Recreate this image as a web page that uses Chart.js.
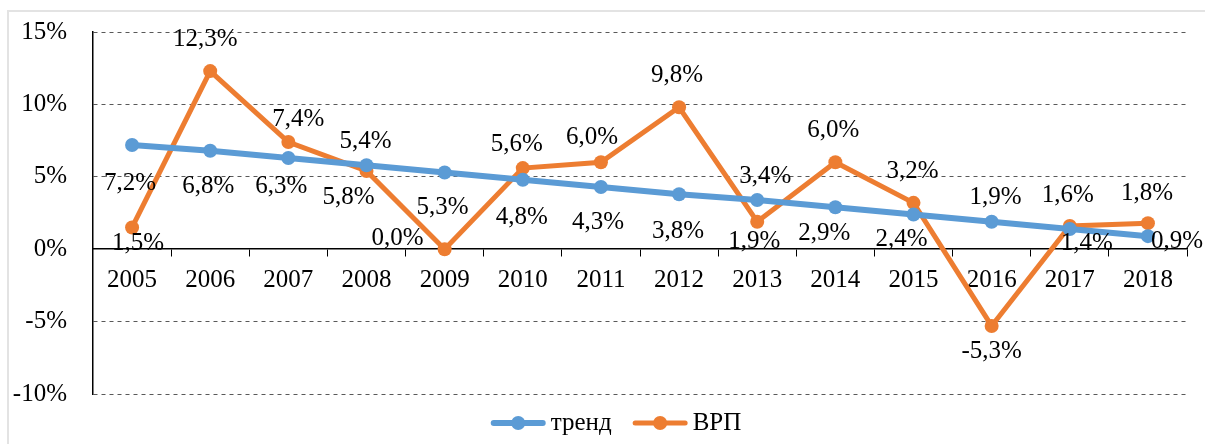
<!DOCTYPE html>
<html>
<head>
<meta charset="utf-8">
<script src="https://cdn.jsdelivr.net/npm/chart.js@4.4.1/dist/chart.umd.min.js"></script>
<style>
  html, body { margin: 0; padding: 0; background: #fff; }
  #wrap { position: relative; width: 1205px; height: 444px; }
</style>
</head>
<body>
<div id="wrap"><canvas id="c" width="1205" height="444"></canvas></div>
<script>
// ---- data ----
const years = ['2005','2006','2007','2008','2009','2010','2011','2012','2013','2014','2015','2016','2017','2018'];
const trend = [7.2, 6.8, 6.3, 5.8, 5.3, 4.8, 4.3, 3.8, 3.4, 2.9, 2.4, 1.9, 1.4, 0.9];
const vrp   = [1.5, 12.3, 7.4, 5.4, 0.0, 5.6, 6.0, 9.8, 1.9, 6.0, 3.2, -5.3, 1.6, 1.8];
const seriesNames = ['тренд', 'ВРП'];
const yTicks = [-10, -5, 0, 5, 10, 15];

// ---- styles ----
const FONT = '"Liberation Serif", "Times New Roman", serif';
const FSIZE = 25;
const BLUE = '#5B9BD5';
const ORANGE = '#ED7D31';
// data label placement (pixel offsets from each point), as in the original layout
const trendLabelOffset = [[-2,38],[-2,36],[-7,28],[-18,32],[-2,35],[-1,38],[-3,36],[-1,37],[8,-24],[-11,26],[-12,25],[4,-24],[17,15],[29,5]];
const vrpLabelOffset   = [[6,16],[-5,-32],[10,-23],[-1,-30],[-47,-11],[-6,-24],[-9,-25],[-2,-32],[-3,20],[-2,-32],[-1,-31],[0,25],[-2,-31],[-1,-30]];
const LEGEND = { centerX: 616, centerY: 423, lineLen: 55, textGap: 5, itemGap: 21 };

const fmt = v => v.toFixed(1).replace('.', ',') + '%';

const labelPlugin = {
  id: 'pointLabels',
  afterDatasetsDraw(chart) {
    const ctx = chart.ctx;
    ctx.save();
    ctx.font = FSIZE + 'px ' + FONT;
    ctx.fillStyle = '#000';
    ctx.textAlign = 'center';
    ctx.textBaseline = 'middle';
    const offs = [trendLabelOffset, vrpLabelOffset];
    chart.data.datasets.forEach((ds, di) => {
      const meta = chart.getDatasetMeta(di);
      meta.data.forEach((pt, i) => {
        const o = offs[di][i];
        ctx.fillText(fmt(ds.data[i]), pt.x + o[0], pt.y + o[1]);
      });
    });
    ctx.restore();
  }
};

const legendPlugin = {
  id: 'lineLegend',
  afterDraw(chart) {
    const ctx = chart.ctx;
    const dss = chart.data.datasets;
    ctx.save();
    ctx.font = FSIZE + 'px ' + FONT;
    ctx.textBaseline = 'middle';
    ctx.textAlign = 'left';
    const widths = dss.map(ds => ctx.measureText(ds.label).width);
    let total = 0;
    dss.forEach((ds, i) => { total += LEGEND.lineLen + LEGEND.textGap + widths[i] + (i ? LEGEND.itemGap : 0); });
    let x = LEGEND.centerX - total / 2;
    const y = LEGEND.centerY;
    dss.forEach((ds, i) => {
      if (i) x += LEGEND.itemGap;
      const lw = ds.borderWidth;
      ctx.strokeStyle = ds.borderColor;
      ctx.lineWidth = lw;
      ctx.lineCap = 'round';
      ctx.beginPath();
      ctx.moveTo(x + lw / 2, y);
      ctx.lineTo(x + LEGEND.lineLen - lw / 2, y);
      ctx.stroke();
      ctx.fillStyle = ds.borderColor;
      ctx.beginPath();
      ctx.arc(x + LEGEND.lineLen / 2, y, ds.pointRadius, 0, Math.PI * 2);
      ctx.fill();
      x += LEGEND.lineLen + LEGEND.textGap;
      ctx.fillStyle = '#000';
      ctx.fillText(ds.label, x, y);
      x += widths[i];
    });
    ctx.restore();
  }
};

const framePlugin = {
  id: 'frame',
  beforeDraw(chart) {
    const ctx = chart.ctx;
    ctx.save();
    ctx.fillStyle = '#fff';
    ctx.fillRect(0, 0, chart.width, chart.height);
    ctx.strokeStyle = '#e3e3e3';
    ctx.lineWidth = 2;
    ctx.strokeRect(8, 11, chart.width + 20, chart.height + 20);
    ctx.restore();
  }
};

new Chart(document.getElementById('c'), {
  type: 'line',
  data: {
    labels: years,
    datasets: [
      { label: seriesNames[0], data: trend, borderColor: BLUE, backgroundColor: BLUE,
        borderWidth: 6, pointRadius: 7, pointBackgroundColor: BLUE, pointBorderWidth: 0, tension: 0 },
      { label: seriesNames[1], data: vrp, borderColor: ORANGE, backgroundColor: ORANGE,
        borderWidth: 5, pointRadius: 7, pointBackgroundColor: ORANGE, pointBorderWidth: 0, tension: 0 }
    ]
  },
  options: {
    responsive: false,
    animation: false,
    devicePixelRatio: 1,
    layout: { padding: { left: 10, right: 18, top: 32, bottom: 50 } },
    plugins: {
      tooltip: { enabled: false },
      legend: { display: false }
    },
    scales: {
      x: {
        type: 'category',
        offset: true,
        position: { y: 0 },
        grid: { offset: true, drawOnChartArea: false, drawTicks: true, tickLength: 7, color: '#000', lineWidth: 1 },
        border: { display: true, color: '#000', width: 1.5 },
        ticks: { color: '#000', font: { family: FONT, size: FSIZE }, padding: 9, maxRotation: 0, autoSkip: false }
      },
      y: {
        min: yTicks[0],
        max: yTicks[yTicks.length - 1],
        afterBuildTicks: (scale) => { scale.ticks = yTicks.map(v => ({ value: v })); },
        afterFit: (scale) => { scale.width = 83; scale.paddingTop = 0; scale.paddingBottom = 0; },
        grid: {
          drawTicks: false,
          lineWidth: 1,
          color: (c) => (c.tick && c.tick.value === 0) ? 'rgba(0,0,0,0)' : '#595959'
        },
        border: { display: true, color: '#000', width: 1.5, dash: [4, 4] },
        ticks: { color: '#000', font: { family: FONT, size: FSIZE }, padding: 26, callback: (v) => v + '%' }
      }
    }
  },
  plugins: [framePlugin, labelPlugin, legendPlugin]
});
</script>
</body>
</html>
